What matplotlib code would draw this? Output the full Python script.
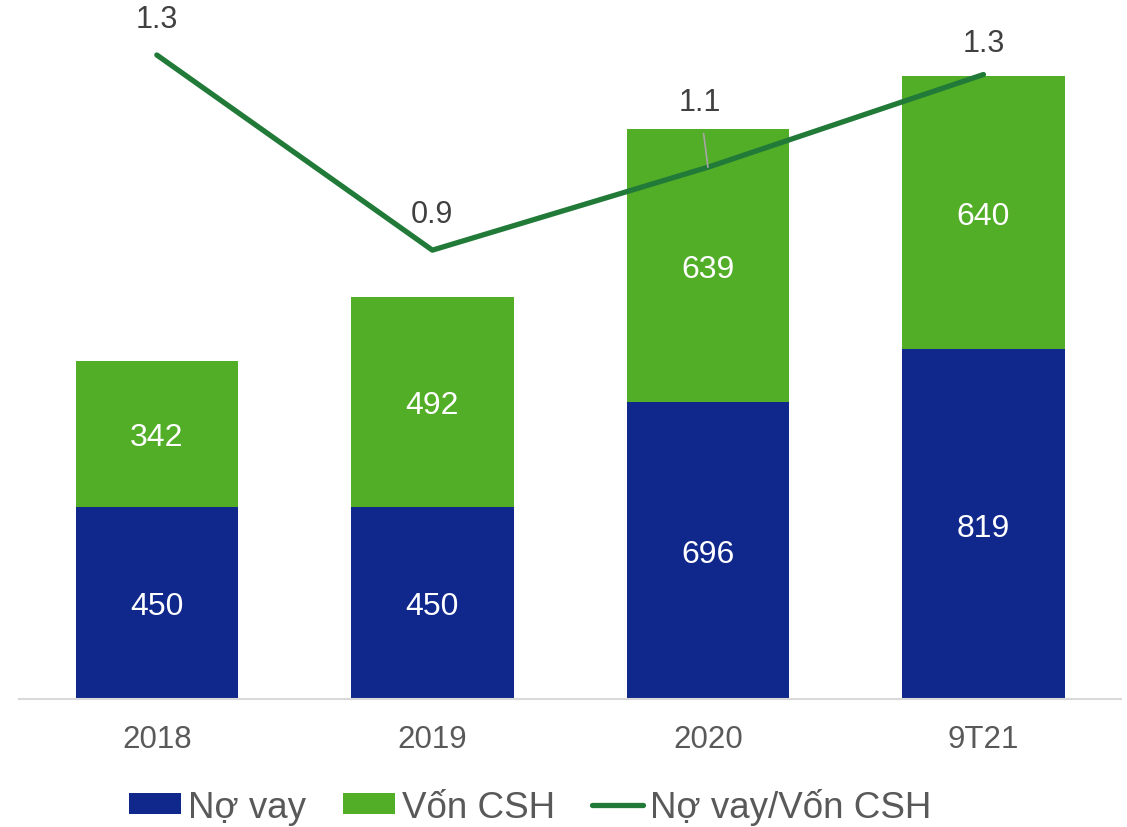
import matplotlib.pyplot as plt
import numpy as np

plt.rcParams["font.family"] = ["Liberation Sans", "DejaVu Sans"]

categories = ["2018", "2019", "2020", "9T21"]
no_vay = [450, 450, 696, 819]
von_csh = [342, 492, 639, 640]
ratio = [1.32, 0.92, 1.09, 1.28]

BLUE = "#10288c"
GREEN = "#52ad27"
LINE = "#217a38"

fig = plt.figure(figsize=(11.27, 8.28), dpi=100)
ax = fig.add_axes([0.0169, 0.1546, 0.978, 0.8249])
x = np.arange(len(categories))

b1 = ax.bar(x, no_vay, width=0.59, color=BLUE, label="Nợ vay")
b2 = ax.bar(x, von_csh, width=0.59, bottom=no_vay, color=GREEN, label="Vốn CSH")
for vals, base in ((no_vay, [0] * 4), (von_csh, no_vay)):
    for xi, v, b in zip(x, vals, base):
        ax.text(xi, b + v / 2, f"{v}", ha="center", va="center_baseline",
                color="white", fontsize=23)

ax.set_xlim(-0.5, len(categories) - 0.5)
ax.set_ylim(0, 1600)
ax.set_yticks([])
for side in ("left", "right", "top"):
    ax.spines[side].set_visible(False)
ax.spines["bottom"].set_color("#d9d9d9")
ax.spines["bottom"].set_linewidth(1.5)
ax.set_xticks(x)
ax.set_xticklabels(categories, fontsize=22.5, color="#595959")
ax.tick_params(axis="x", length=0, pad=18)

# ratio line on its own scale
ax2 = ax.twinx()
ax2.set_ylim(0, 1.4)
ax2.set_yticks([])
for side in ("left", "right", "top", "bottom"):
    ax2.spines[side].set_visible(False)
(ln,) = ax2.plot(x, ratio, color=LINE, linewidth=3.8, solid_capstyle="round",
                 label="Nợ vay/Vốn CSH")

offsets = [(0, 26), (0, 26), (-6, 47), (0, 23)]
for xi, r, off in zip(x, ratio, offsets):
    props = None
    if off[1] > 40:
        props = dict(arrowstyle="-", color="#a6a6a6", lw=1.2,
                     shrinkA=10, shrinkB=0)
    ax2.annotate(f"{r:.1f}", (xi, r), xytext=off, textcoords="offset points",
                 ha="center", va="center", fontsize=22, color="#404040",
                 arrowprops=props)

fig.legend(handles=[b1, b2, ln], loc="center", bbox_to_anchor=(0.4707, 0.025),
           ncol=3, frameon=False, fontsize=26.5, labelcolor="#595959",
           handlelength=1.41, handleheight=0.52, handletextpad=0.19,
           columnspacing=1.0)

fig.savefig("out.png", dpi=100)
